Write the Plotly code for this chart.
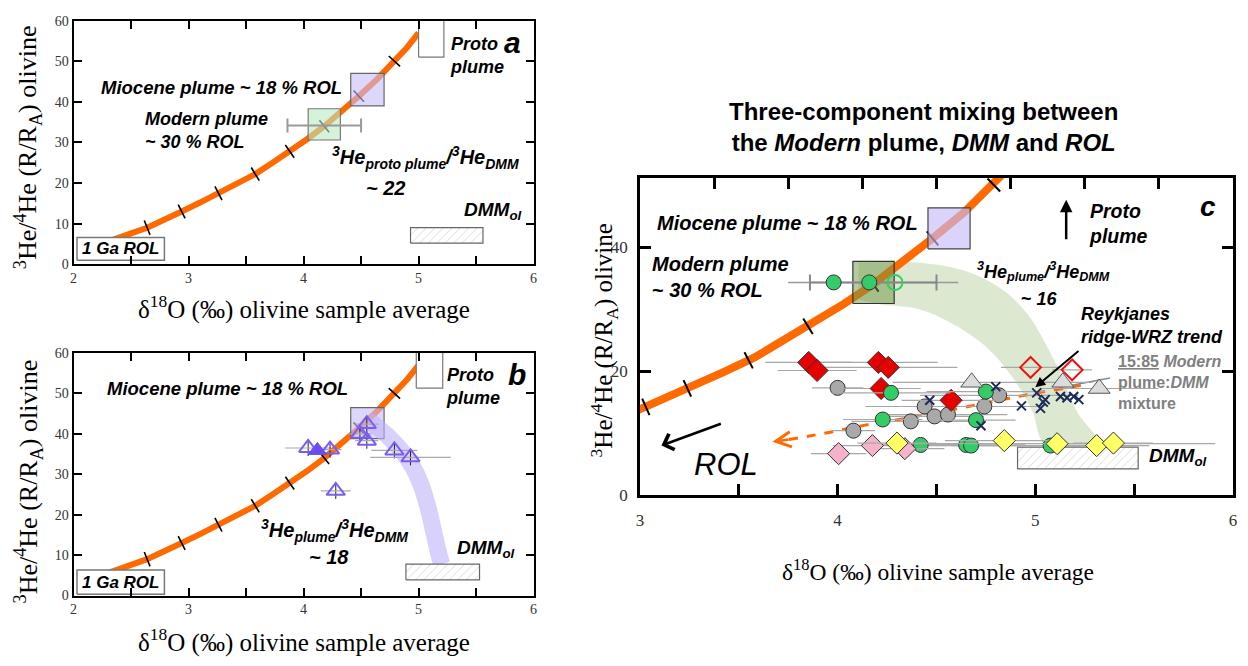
import numpy as np
import plotly.graph_objects as go

W, H = 1248, 666

# ---------------- data ----------------
# ROL - proto plume mixing curve (delta18O, 3He/4He)
curve_x = [2.2, 2.36, 2.5, 2.64, 2.8, 2.94, 3.1, 3.26, 3.42, 3.58, 3.73, 3.88, 4.03, 4.18, 4.33, 4.48, 4.64, 4.79, 4.9, 5.0]
curve_y = [4.6, 6.4, 7.6, 9.0, 11.0, 13.0, 15.2, 17.5, 19.8, 22.2, 25.0, 27.8, 30.8, 34.0, 37.6, 41.4, 45.6, 50.0, 53.4, 57.0]
ticks_ab_x = [2.64, 2.94, 3.26, 3.58, 3.88, 4.18, 4.48, 4.79]
ticks_c_x = [3.03, 3.24, 3.55, 3.85, 4.18, 4.48, 4.79]

# boxes [x0, x1, y0, y1]
a_proto = [5.0, 5.22, 51.0, 61.0]
a_mio = [4.41, 4.70, 39.0, 47.0]
a_mod = [4.04, 4.32, 30.6, 38.3]
a_dmm = [4.93, 5.56, 5.2, 9.0]
a_rol = [2.03, 2.79, 1.0, 6.6]
b_proto = [4.98, 5.21, 51.3, 61.0]
b_mio = [4.41, 4.70, 38.8, 46.5]
b_dmm = [4.89, 5.53, 3.9, 7.8]
b_rol = [2.03, 2.79, 0.3, 6.3]
c_mio = [4.457, 4.67, 39.7, 46.3]
c_mod = [4.077, 4.286, 30.9, 37.7]
c_dmm = [4.91, 5.52, 4.24, 7.75]

# modern plume average with error
mod_x, mod_y, mod_err = 4.18, 34.2, 0.32

# panel b triangles
tri_b_x = [4.04, 4.23, 4.55, 4.49, 4.55, 4.79, 4.93, 4.28]
tri_b_y = [36.5, 36.1, 42.4, 40.0, 38.3, 35.9, 34.2, 25.9]
tri_b_xerr = [0.2, 0.1, 0.1, 0.1, 0.1, 0.2, 0.35, 0.13]
tri_b_fill_x = [4.12]
tri_b_fill_y = [35.9]
band_b_x = [4.55, 4.65, 4.8, 4.94, 5.02, 5.08, 5.13, 5.17, 5.2]
band_b_y = [43.5, 41.5, 37.5, 32.3, 27.5, 22.0, 16.0, 11.0, 7.8]

# panel c band (outer edge then inner edge)
band_c_x = [4.106, 4.407, 4.658, 4.834, 4.960, 5.05, 5.136, 5.21, 5.32,
            5.05, 4.985, 4.884, 4.759, 4.583, 4.407, 4.206, 4.106]
band_c_y = [37.5, 37.5, 36.0, 33.1, 29.2, 24.5, 19.0, 13.5, 8.2,
            8.2, 13.5, 19.0, 23.7, 27.6, 30.0, 30.8, 31.6]

# panel c samples
red_x = [3.854, 3.896, 4.206, 4.256, 4.22, 4.574]
red_y = [21.4, 20.1, 21.4, 20.6, 17.2, 15.3]
red_err = [0.22, 0.2, 0.3, 0.35, 0.2, 0.25]
ored_x = [4.976, 5.186]
ored_y = [20.6, 20.2]
ored_err = [0.15, 0.1]
gray_x = [4.00, 4.08, 4.37, 4.44, 4.49, 4.558, 4.742, 4.817]
gray_y = [17.3, 10.4, 11.9, 14.3, 12.7, 13.0, 14.3, 16.1]
gray_err = [0.13, 0.11, 0.3, 0.3, 0.25, 0.3, 0.3, 0.4]
green_x = [3.98, 4.16, 4.27, 4.228, 4.75, 4.70, 4.42, 4.65, 4.675, 5.077]
green_y = [34.3, 34.3, 16.5, 12.2, 16.7, 12.1, 8.1, 8.1, 8.0, 8.0]
green_err = [0, 0, 0.3, 0.2, 0.3, 0.2, 0.3, 0.3, 0.3, 0.5]
ogreen_x = [4.29]
ogreen_y = [34.3]
yellow_x = [4.30, 4.843, 5.11, 5.31, 5.395]
yellow_y = [8.4, 8.8, 8.3, 8.0, 8.4]
yellow_err = [0.2, 0.3, 0.8, 0.2, 0.2]
pink_x = [4.005, 4.176, 4.34]
pink_y = [6.7, 8.0, 7.5]
pink_err = [0.14, 0.2, 0.2]
tri_c_x = [4.678, 5.139, 5.323]
tri_c_y = [18.2, 18.2, 17.2]
tri_c_err = [0.4, 0.15, 0.3]
cross_x = [4.466, 4.80, 4.725, 4.93, 5.007, 5.05, 5.026, 5.127, 5.16, 5.194, 5.22, 5.04]
cross_y = [15.3, 17.5, 11.2, 14.4, 16.5, 15.4, 14.0, 15.9, 15.7, 15.9, 15.4, 15.0]
# Reykjanes trend (dashed orange)
rwrz_x = [5.23, 4.96, 4.71, 4.31, 4.14, 3.97, 3.75]
rwrz_y = [17.7, 16.2, 14.6, 12.2, 11.3, 10.2, 8.95]

# axis ticks
ab_xticks = [2, 3, 4, 5, 6]
ab_yticks = [0, 10, 20, 30, 40, 50, 60]
c_xticks = [3, 4, 5, 6]
c_yticks = [0, 20, 40]
c_top = [3.375, 3.75, 4.125, 4.5, 4.875, 5.25, 5.625]

# ---------------- layout geometry (pixels) ----------------
def dom_x(p0, p1):
    return [p0 / W, p1 / W]

def dom_y(top, bottom):
    return [1 - bottom / H, 1 - top / H]

ORANGE = '#ff6a00'
fig = go.Figure()

def box(b, fill, line, xa, ya, width=1.2, pattern=None):
    x0, x1, y0, y1 = b
    kw = {}
    if pattern is not None:
        kw['fillpattern'] = pattern
    fig.add_trace(go.Scatter(x=[x0, x1, x1, x0, x0], y=[y0, y0, y1, y1, y0], mode='lines',
                             fill='toself', fillcolor=fill, line=dict(color=line, width=width),
                             xaxis=xa, yaxis=ya, hoverinfo='skip', showlegend=False, **kw))

def curve(xa, ya, width):
    fig.add_trace(go.Scatter(x=curve_x, y=curve_y, mode='lines', line=dict(color=ORANGE, width=width),
                             xaxis=xa, yaxis=ya, hoverinfo='skip', showlegend=False))

def ticks(xs, xa, ya, pxx, pxy, size, lw):
    cx = np.array(curve_x); cy = np.array(curve_y)
    d = np.diff(cy) / np.diff(cx)
    mid = (cx[:-1] + cx[1:]) / 2
    s = np.interp(xs, mid, d)
    ang = -np.degrees(np.arctan(s * pxy / pxx))
    ys = np.interp(xs, cx, cy)
    fig.add_trace(go.Scatter(x=xs, y=ys, mode='markers',
                             marker=dict(symbol='line-ns', size=size, angle=ang,
                                         line=dict(color='black', width=lw)),
                             xaxis=xa, yaxis=ya, hoverinfo='skip', showlegend=False))

hatch = dict(shape='/', fgcolor='#9a9a9a', bgcolor='white', size=6, solidity=0.12)

# px per unit
ab_pxx, ab_pxy = 463 / 4, 249 / 60
c_pxx, c_pxy = 597 / 3, 326 / 51.2

# ---------------- panel a ----------------
curve('x', 'y', 6)
ticks(ticks_ab_x, 'x', 'y', ab_pxx, ab_pxy, 11, 1.6)
box(a_proto, 'white', '#777777', 'x', 'y')
box(a_mio, 'rgba(200,188,250,0.6)', '#666666', 'x', 'y')
box(a_mod, 'rgba(185,235,195,0.6)', '#777777', 'x', 'y')
box(a_dmm, 'white', '#666666', 'x', 'y', pattern=hatch)
box(a_rol, 'white', '#777777', 'x', 'y', width=1.5)
fig.add_trace(go.Scatter(x=[mod_x], y=[mod_y], mode='markers', marker=dict(size=1, color='rgba(0,0,0,0)'),
                         error_x=dict(type='constant', value=mod_err, color='#999999', thickness=2, width=7),
                         xaxis='x', yaxis='y', hoverinfo='skip', showlegend=False))

# ---------------- panel b ----------------
curve('x2', 'y2', 6)
ticks(ticks_ab_x, 'x2', 'y2', ab_pxx, ab_pxy, 11, 1.6)
box(b_proto, 'white', '#777777', 'x2', 'y2')
box(b_mio, 'rgba(200,188,250,0.6)', '#666666', 'x2', 'y2')
fig.add_trace(go.Scatter(x=band_b_x, y=band_b_y, mode='lines',
                         line=dict(color='rgba(190,178,250,0.6)', width=17, shape='spline'),
                         xaxis='x2', yaxis='y2', hoverinfo='skip', showlegend=False))
box(b_dmm, 'white', '#666666', 'x2', 'y2', pattern=hatch)
box(b_rol, 'white', '#777777', 'x2', 'y2', width=1.5)
fig.add_trace(go.Scatter(x=tri_b_x, y=tri_b_y, mode='markers',
                         marker=dict(symbol='triangle-up-open', size=16, color='#7b5cf5', line=dict(width=2)),
                         error_x=dict(type='data', array=tri_b_xerr, color='#aaaaaa', thickness=1.2, width=0),
                         error_y=dict(type='constant', value=2.0, color='#222222', thickness=1, width=0),
                         xaxis='x2', yaxis='y2', hoverinfo='skip', showlegend=False))
fig.add_trace(go.Scatter(x=tri_b_fill_x, y=tri_b_fill_y, mode='markers',
                         marker=dict(symbol='triangle-up', size=16, color='#6a4cf0', line=dict(width=1, color='#6a4cf0')),
                         xaxis='x2', yaxis='y2', hoverinfo='skip', showlegend=False))

# ---------------- panel c ----------------
fig.add_trace(go.Scatter(x=band_c_x, y=band_c_y, mode='lines', fill='toself',
                         fillcolor='rgba(205,222,188,0.7)', line=dict(width=0, color='rgba(0,0,0,0)', shape='spline'),
                         xaxis='x3', yaxis='y3', hoverinfo='skip', showlegend=False))
curve('x3', 'y3', 8)
ticks(ticks_c_x, 'x3', 'y3', c_pxx, c_pxy, 13, 2)
box(c_mio, 'rgba(200,188,250,0.65)', '#444444', 'x3', 'y3')
box(c_mod, 'rgba(110,150,70,0.5)', '#333333', 'x3', 'y3')
box(c_dmm, 'white', '#666666', 'x3', 'y3', pattern=hatch)
fig.add_trace(go.Scatter(x=[mod_x], y=[mod_y + 0.1], mode='markers', marker=dict(size=1, color='rgba(0,0,0,0)'),
                         error_x=dict(type='constant', value=0.43, color='#999999', thickness=1.5, width=0),
                         xaxis='x3', yaxis='y3', hoverinfo='skip', showlegend=False))
fig.add_trace(go.Scatter(x=[mod_x], y=[mod_y + 0.1], mode='markers', marker=dict(size=1, color='rgba(0,0,0,0)'),
                         error_x=dict(type='constant', value=mod_err, color='#888888', thickness=2, width=8),
                         xaxis='x3', yaxis='y3', hoverinfo='skip', showlegend=False))
fig.add_trace(go.Scatter(x=rwrz_x, y=rwrz_y, mode='lines', line=dict(color=ORANGE, width=3, dash='dash', shape='spline'),
                         xaxis='x3', yaxis='y3', hoverinfo='skip', showlegend=False))
fig.add_trace(go.Scatter(x=[5.178, 5.378], y=[17.7, 18.9], mode='lines', line=dict(color='#888888', width=1.5),
                         xaxis='x3', yaxis='y3', hoverinfo='skip', showlegend=False))

def pts(xs, ys, errs, symbol, size, color, lcolor='#333333', lw=1):
    ex = None
    if errs is not None:
        ex = dict(type='data', array=errs, color='#a8a8a8', thickness=1.2, width=0)
    fig.add_trace(go.Scatter(x=xs, y=ys, mode='markers',
                             marker=dict(symbol=symbol, size=size, color=color, line=dict(color=lcolor, width=lw)),
                             error_x=ex, xaxis='x3', yaxis='y3', hoverinfo='skip', showlegend=False))

pts(gray_x, gray_y, gray_err, 'circle', 15, '#a9a9a9')
pts(red_x, red_y, red_err, 'diamond', 17, '#e60000')
pts(ored_x, ored_y, ored_err, 'diamond-open', 16, '#ee1111', lcolor='#ee1111', lw=2)
pts(green_x, green_y, green_err, 'circle', 15, '#33cc66')
pts(ogreen_x, ogreen_y, None, 'circle-open', 15, '#33cc66', lcolor='#33cc66', lw=2)
pts(pink_x, pink_y, pink_err, 'diamond', 17, '#f5b3cb')
pts(yellow_x, yellow_y, yellow_err, 'diamond', 17, '#ffff66')
pts(tri_c_x, tri_c_y, tri_c_err, 'triangle-up', 19, '#dcdcdc', lcolor='#555555')
fig.add_trace(go.Scatter(x=cross_x, y=cross_y, mode='markers',
                         marker=dict(symbol='x-thin', size=9, color='#1c2b5a', line=dict(color='#1c2b5a', width=2)),
                         xaxis='x3', yaxis='y3', hoverinfo='skip', showlegend=False))
# anchor trace for the top tick axis of panel c
fig.add_trace(go.Scatter(x=[3.1], y=[1], mode='markers', marker=dict(size=1, color='rgba(0,0,0,0)'),
                         xaxis='x4', yaxis='y3', hoverinfo='skip', showlegend=False))

# ---------------- axes ----------------
tickfont_ab = dict(family='Liberation Serif', size=14, color='#333333')
tickfont_c = dict(family='Liberation Serif', size=17, color='#333333')

def axis(**kw):
    base = dict(showline=True, linecolor='black', linewidth=2, mirror='ticks', ticks='inside',
                ticklen=8, tickwidth=2, tickcolor='black', showgrid=False, zeroline=False,
                fixedrange=True)
    base.update(kw)
    return base

minor_ab = dict(dtick=0.5, ticks='inside', ticklen=8, tickwidth=2, tickcolor='black', showgrid=False)
minor_c = dict(dtick=0.5, ticks='inside', ticklen=11, tickwidth=2.5, tickcolor='black', showgrid=False)

fig.update_layout(
    width=W, height=H, margin=dict(l=0, r=0, t=0, b=0),
    paper_bgcolor='white', plot_bgcolor='white', showlegend=False,
    xaxis=axis(domain=dom_x(70, 533), range=[2, 6], anchor='y', tickvals=ab_xticks, minor=minor_ab,
               tickfont=tickfont_ab),
    yaxis=axis(domain=dom_y(14, 264), range=[0, 60], anchor='x', tickvals=ab_yticks,
               tickfont=tickfont_ab),
    xaxis2=axis(domain=dom_x(70, 533), range=[2, 6], anchor='y2', tickvals=ab_xticks, minor=minor_ab,
                tickfont=tickfont_ab),
    yaxis2=axis(domain=dom_y(355, 604), range=[0, 60], anchor='x2', tickvals=ab_yticks,
                tickfont=tickfont_ab),
    xaxis3=axis(domain=dom_x(640, 1237), range=[3, 6], anchor='y3', tickvals=c_xticks, minor=minor_c,
                tickfont=tickfont_c, mirror=True, ticklen=11, linewidth=2.5, tickwidth=2.5,
                ticklabelstandoff=8),
    yaxis3=axis(domain=dom_y(175, 501), range=[0, 51.2], anchor='x3', tickvals=c_yticks,
                tickfont=tickfont_c, ticklen=11, linewidth=2.5, tickwidth=2.5, ticklabelstandoff=6),
    xaxis4=dict(overlaying='x3', side='top', anchor='y3', range=[3, 6], tickvals=c_top, ticks='inside',
                ticklen=11, tickwidth=2.5, tickcolor='black', showticklabels=False, showline=False,
                showgrid=False, zeroline=False, fixedrange=True),
)

# ---------------- annotations ----------------
ann = []
SANS = 'Liberation Sans'
SERIF = 'Liberation Serif'

def t(text, x, y, xr, yr, size, xanchor='left', color='black', family=SANS, align='left', yanchor='middle'):
    ann.append(dict(text=text, x=x, y=y, xref=xr, yref=yr, showarrow=False, xanchor=xanchor,
                    yanchor=yanchor, align=align, font=dict(family=family, size=size, color=color)))

# panel a
t('<b><i>Miocene plume ~ 18 % ROL</i></b>', 2.225, 43.6, 'x', 'y', 18.5)
t('<b><i>Modern plume<br>~ 30 % ROL</i></b>', 2.605, 33.0, 'x', 'y', 18)
t('<b><i>Proto<br>plume</i></b>', 5.257, 51.3, 'x', 'y', 18)
t('<b><i>a</i></b>', 5.82, 54.7, 'x', 'y', 30, xanchor='center')
t('<b><i><sup>3</sup>He<sub>proto plume</sub>/<sup>3</sup>He<sub>DMM</sub></i></b>', 4.23, 26.3, 'x', 'y', 20)
t('<b><i>~ 22</i></b>', 4.71, 18.8, 'x', 'y', 20, xanchor='center')
t('<b><i>DMM<sub>ol</sub></i></b>', 5.92, 13.0, 'x', 'y', 19, xanchor='right')
t('<b><i>1 Ga ROL</i></b>', 2.41, 3.8, 'x', 'y', 17, xanchor='center')

# panel b
t('<b><i>Miocene plume ~ 18 % ROL</i></b>', 2.276, 51.1, 'x2', 'y2', 18.5)
t('<b><i>Proto<br>plume</i></b>', 5.22, 51.7, 'x2', 'y2', 18)
t('<b><i>b</i></b>', 5.86, 54.7, 'x2', 'y2', 30, xanchor='center')
t('<b><i><sup>3</sup>He<sub>plume</sub>/<sup>3</sup>He<sub>DMM</sub></i></b>', 3.615, 16.2, 'x2', 'y2', 20)
t('<b><i>~ 18</i></b>', 4.217, 9.5, 'x2', 'y2', 20, xanchor='center')
t('<b><i>DMM<sub>ol</sub></i></b>', 5.317, 11.4, 'x2', 'y2', 19)
t('<b><i>1 Ga ROL</i></b>', 2.41, 3.3, 'x2', 'y2', 17, xanchor='center')

# panel c
t('<b><i>Miocene plume</i> ~ <i>18 % ROL</i></b>', 3.075, 43.9, 'x3', 'y3', 20)
t('<b><i>Modern plume<br></i>~ <i>30 % ROL</i></b>', 3.05, 35.1, 'x3', 'y3', 20)
t('<b><i>Proto<br>plume</i></b>', 5.26, 43.8, 'x3', 'y3', 19.5)
t('<b><i>c</i></b>', 5.873, 46.5, 'x3', 'y3', 28, xanchor='center')
t('<b><i><sup>3</sup>He<sub>plume</sub>/<sup>3</sup>He<sub>DMM</sub></i></b>', 4.693, 36.0, 'x3', 'y3', 18)
t('<b>~ <i>16</i></b>', 5.02, 31.7, 'x3', 'y3', 18, xanchor='center')
t('<b><i>Reykjanes<br>ridge-WRZ trend</i></b>', 5.22, 27.4, 'x3', 'y3', 18)
t('<b><u>15:85</u> <i>Modern</i><br>plume:<i>DMM</i><br>mixture</b>', 5.407, 18.1, 'x3', 'y3', 16, color='#808080')
t('<b><i>DMM<sub>ol</sub></i></b>', 5.566, 6.2, 'x3', 'y3', 19)
t('<i>ROL</i>', 3.437, 4.9, 'x3', 'y3', 31, xanchor='center')

# arrows panel c
def arrow(x, y, axx, ayy, head, color='black', width=2.2, size=1.0):
    ann.append(dict(text='', x=x, y=y, ax=axx, ay=ayy, xref='x3', yref='y3', axref='x3', ayref='y3',
                    showarrow=True, arrowhead=head, arrowwidth=width, arrowsize=size, arrowcolor=color))

arrow(5.156, 47.6, 5.156, 41.0, 2, width=2.5)
arrow(3.109, 8.0, 3.417, 11.6, 4, width=2.5, size=1.3)
arrow(5.0, 17.4, 5.226, 23.45, 2, width=2)
arrow(3.67, 8.6, 3.76, 9.0, 5, color=ORANGE, width=2.5, size=1.2)

# titles
t('<b>Three-component mixing between<br>the <i>Modern</i> plume, <i>DMM</i> and <i>ROL</i></b>',
  925 / W, 1 - 123 / H, 'paper', 'paper', 24, xanchor='center', align='center')

xt = 'δ<sup>18</sup>O (‰) olivine sample average'
yt = '<sup>3</sup>He/<sup>4</sup>He (R/R<sub>A</sub>) olivine'
t(xt, 302 / W, 1 - 308 / H, 'paper', 'paper', 25, xanchor='center', family=SERIF)
t(xt, 302 / W, 1 - 650 / H, 'paper', 'paper', 25, xanchor='center', family=SERIF)
t(xt, 940 / W, 1 - 578 / H, 'paper', 'paper', 23.5, xanchor='center', family=SERIF)
for (xp, yp, fs) in [(24, 144, 26), (24, 487, 26), (604, 342, 25)]:
    ann.append(dict(text=yt, x=xp / W, y=1 - yp / H, xref='paper', yref='paper', showarrow=False,
                    textangle=-90, xanchor='center', yanchor='middle',
                    font=dict(family=SERIF, size=fs, color='black')))

fig.update_layout(annotations=ann)
fig.write_html('out.html')
